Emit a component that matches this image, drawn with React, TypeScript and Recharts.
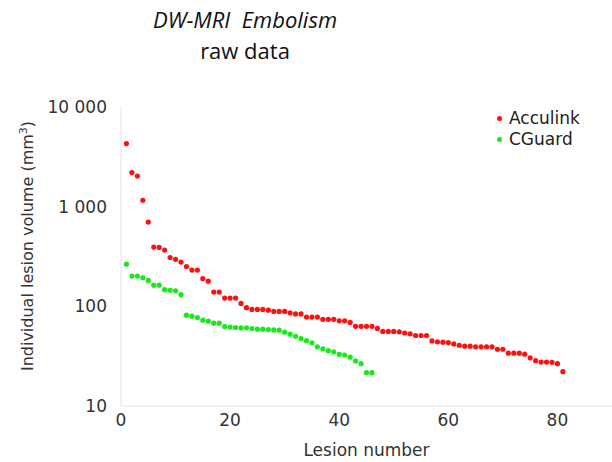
import React from 'react';
import { ScatterChart, Scatter, XAxis, YAxis } from 'recharts';

// lesion volumes (mm3), sorted largest first, lesion number = index + 1
const acculinkVolumes = [
  4300, 2200, 2030, 1160, 700, 393, 390, 367, 309, 296,
  278, 251, 231, 231, 190, 179, 139, 139, 121, 121,
  121, 107, 97, 93, 93, 93, 91.5, 89, 89, 89,
  86, 84, 84, 78, 78, 78, 74, 74, 74, 71.5,
  71.5, 69, 63, 63, 63, 63, 60, 56, 56, 56,
  55.5, 54, 53, 51, 51, 51, 45, 44, 43.7, 43.3,
  42, 40.7, 39.8, 39.8, 39.2, 39.2, 39.2, 39.2, 37.1, 37.1,
  33.9, 33.9, 33.9, 33.1, 30.4, 28.5, 27.6, 27.6, 27.4, 26.6,
  22.1,
];

const cguardVolumes = [
  265, 201, 201, 193, 182, 163, 163, 147, 145, 143,
  131, 81.5, 79.6, 77.2, 72.6, 70.9, 67.8, 67.8, 62.7, 61.9,
  61.3, 60.8, 60.8, 59.8, 59, 59, 58.5, 58, 57.6, 55,
  52.6, 50.1, 47.5, 45.2, 43, 39.2, 37.4, 35.9, 34.9, 33,
  32.5, 30.9, 28.3, 26.6, 21.6, 21.6,
];

const xTicks = [0, 20, 40, 60, 80];
const yTicks = [10, 100, 1000, 10000];

const seriesNames = ['Acculink', 'CGuard'];
const seriesColors = ['#ff1010', '#1be81b'];

const acculinkData = acculinkVolumes.map((v, i) => ({ lesion: i + 1, volume: v }));
const cguardData = cguardVolumes.map((v, i) => ({ lesion: i + 1, volume: v }));

const fmt = (v: number) => String(v).replace(/\B(?=(\d{3})+(?!\d))/g, ' ');

const dot = (color: string) => (props: any) => (
  <circle cx={props.cx} cy={props.cy} r={2.6} fill={color} />
);

const font = '"DejaVu Sans", sans-serif';

const YLabel = () => (
  <text
    x={0}
    y={0}
    transform="translate(33,246) rotate(-90)"
    textAnchor="middle"
    fontFamily={font}
    fontSize={16}
    fill="#333"
  >
    Individual lesion volume (mm
    <tspan baselineShift="super" fontSize={11}>3</tspan>
    )
  </text>
);

export default function App() {
  return (
    <div style={{ position: 'absolute', left: 0, top: 0, width: 612, height: 462, background: '#fff' }}>
      <div style={{ position: 'absolute', left: 0, top: 4, width: 490, textAlign: 'center', fontFamily: '"Open Sans", sans-serif', fontSize: 22, color: '#111' }}>
        <div style={{ fontStyle: 'italic', whiteSpace: 'pre' }}>{'DW-MRI  Embolism'}</div>
        <div style={{ marginTop: 1 }}>raw data</div>
      </div>
      <div style={{ position: 'absolute', left: 497, top: 108, fontFamily: font, fontSize: 17, color: '#222', lineHeight: '21px', zIndex: 2 }}>
        {seriesNames.map((n, i) => (
          <div key={n} style={{ display: 'flex', alignItems: 'center' }}>
            <span style={{ width: 5, height: 5, borderRadius: 3, background: seriesColors[i], marginRight: 7 }} />
            {n}
          </div>
        ))}
      </div>
      <ScatterChart width={612} height={462} margin={{ top: 107, right: 0, bottom: 0, left: 0 }}>
        <XAxis
          type="number"
          dataKey="lesion"
          domain={[0, 90]}
          ticks={xTicks}
          height={56}
          tickLine={false}
          axisLine={{ stroke: '#e2e4e8' }}
          tick={{ fill: '#333', fontSize: 17, fontFamily: font }}
          label={{ value: 'Lesion number', position: 'insideBottom', offset: 6, fill: '#333', fontSize: 17, fontFamily: font }}
        />
        <YAxis
          type="number"
          dataKey="volume"
          scale="log"
          domain={[10, 10000]}
          ticks={yTicks}
          allowDataOverflow
          width={121}
          tickLine={false}
          tickSize={0}
          tickMargin={14}
          tickFormatter={fmt}
          axisLine={{ stroke: '#dce3ef' }}
          tick={{ fill: '#333', fontSize: 17, fontFamily: font }}
          label={{ content: () => <YLabel /> }}
        />
        <Scatter name={seriesNames[0]} data={acculinkData} fill={seriesColors[0]} shape={dot(seriesColors[0])} isAnimationActive={false} />
        <Scatter name={seriesNames[1]} data={cguardData} fill={seriesColors[1]} shape={dot(seriesColors[1])} isAnimationActive={false} />
      </ScatterChart>
    </div>
  );
}
